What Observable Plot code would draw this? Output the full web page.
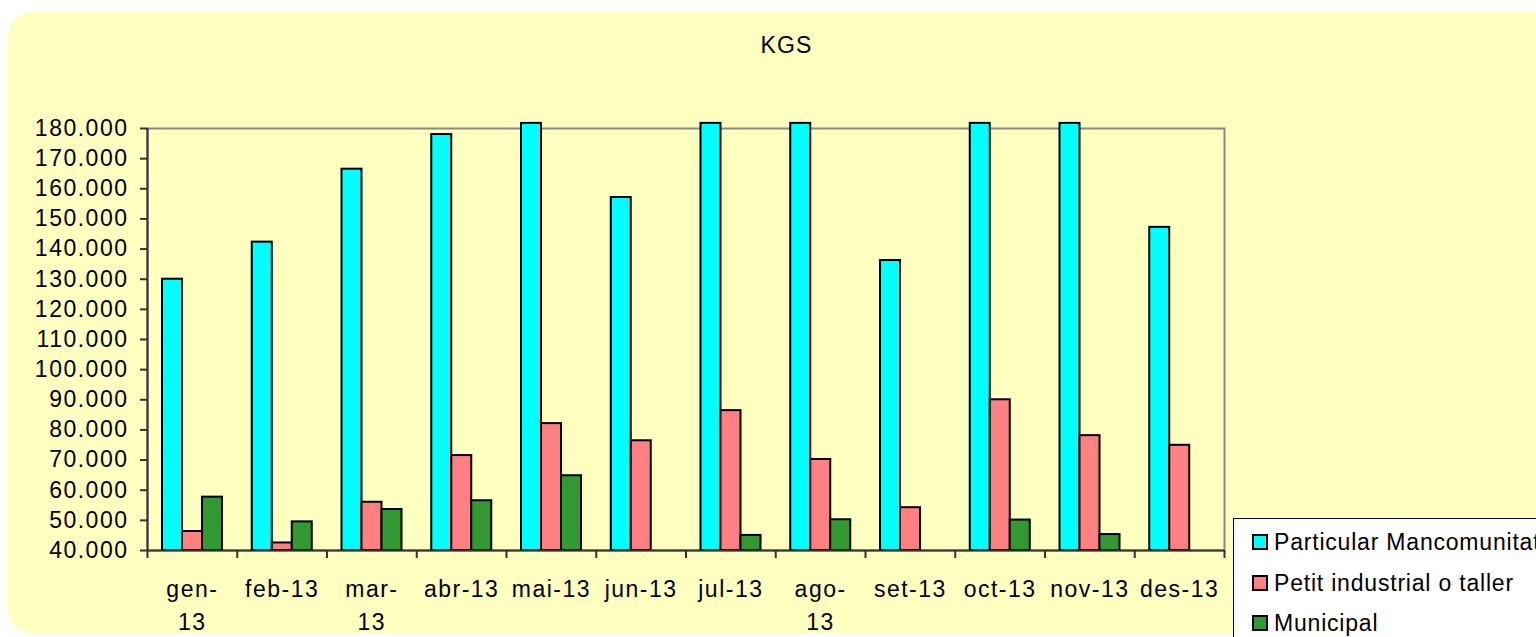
<!DOCTYPE html>
<html>
<head>
<meta charset="utf-8">
<script src="https://cdn.jsdelivr.net/npm/d3@7"></script>
<script src="https://cdn.jsdelivr.net/npm/@observablehq/plot@0.6"></script>
<style>
  html, body { margin: 0; padding: 0; background: #ffffff; }
  #page { position: relative; width: 1536px; height: 637px; overflow: hidden; background: #ffffff;
          font-family: "Liberation Sans", Arial, sans-serif; }
  #bg { position: absolute; left: 8px; top: 12px; width: 1560px; height: 621px; border-radius: 24px; background: #FFFFC0; }
  #title { position: absolute; left: 0; width: 1573px; top: 32px; text-align: center; font-size: 23px; letter-spacing: 1.2px; color: #000; }
  #chart { position: absolute; left: 0; top: 0; }
  #chart svg text { letter-spacing: 1.5px; }
  #legend { position: absolute; left: 1233px; top: 518px; width: 400px; height: 200px; background: #ffffff;
            border: 1px solid #000; box-sizing: border-box; }
  .item { position: absolute; left: 18px; height: 24px; display: flex; align-items: center; font-size: 23px; letter-spacing: 0.8px; white-space: nowrap; color: #000; }
  .sw { width: 12px; height: 12px; border: 2px solid #000; margin-right: 6px; }
</style>
</head>
<body>
<div id="page">
  <div id="bg"></div>
  <div id="title">KGS</div>
  <div id="chart"></div>
  <div id="legend"></div>
</div>
<script>
// ---- data ----
const months = ["gen-13","feb-13","mar-13","abr-13","mai-13","jun-13","jul-13","ago-13","set-13","oct-13","nov-13","des-13"];
const monthLabels = ["gen-\n13","feb-13","mar-\n13","abr-13","mai-13","jun-13","jul-13","ago-\n13","set-13","oct-13","nov-13","des-13"];
const seriesNames = ["Particular Mancomunitat","Petit industrial o taller","Municipal"];
const seriesColors = ["#00FFFF","#FF8080","#339933"];
// Particular bars for mai, jul, ago, oct, nov run off the top of the axis in the source (visible top ~181.700)
const particular = [130000,142300,166500,178000,181700,157100,181700,181700,136200,181700,181700,147200];
const petit      = [46300,42500,56000,71500,82100,76400,86400,70200,54200,90000,78100,74900];
const municipal  = [57700,49500,53600,56500,64800,null,45000,50200,null,50100,45300,null];
const yTicks = [40000,50000,60000,70000,80000,90000,100000,110000,120000,130000,140000,150000,160000,170000,180000];

const seriesValues = [particular, petit, municipal];
const rows = [];
seriesValues.forEach((vals, s) => vals.forEach((v, i) => { if (v != null) rows.push({month: months[i], series: seriesNames[s], value: v}); }));

const W = 1536, H = 637, mL = 147, mR = 312, mT = 128, mB = 87;
const band = (W - mL - mR) / months.length;
const groupPad = 15, barW = 20;
const labelOf = new Map(months.map((m, i) => [m, monthLabels[i]]));
const fmt = d => d3.format(",")(d).replace(/,/g, ".");

const barMarks = seriesNames.map((name, s) => Plot.barY(rows.filter(r => r.series === name), {
  x: "month", y1: 40000, y2: "value",
  fill: seriesColors[s], stroke: "#000", strokeWidth: 2,
  insetLeft: groupPad + s * barW, insetRight: band - groupPad - (s + 1) * barW
}));

const chart = Plot.plot({
  width: W, height: H,
  marginLeft: mL, marginRight: mR, marginTop: mT, marginBottom: mB,
  style: {background: "transparent", fontFamily: "Liberation Sans, Arial, sans-serif", fontSize: "23px", color: "#000", overflow: "visible"},
  x: {type: "band", domain: months, padding: 0, round: false, axis: null},
  y: {domain: [40000, 180000], axis: null},
  marks: [
    Plot.frame({stroke: "#888", strokeWidth: 2}),
    ...barMarks,
    Plot.ruleY([40000], {stroke: "#333", strokeWidth: 2}),
    Plot.ruleX([months[0]], {dx: -band / 2, stroke: "#333", strokeWidth: 2}),
    Plot.axisY({ticks: yTicks, tickSize: 7, tickPadding: 12, tickFormat: fmt, stroke: "#333", strokeWidth: 2, label: null}),
    Plot.axisX({tickSize: 8, tickFormat: () => "", dx: -band / 2, stroke: "#333", strokeWidth: 2, label: null}),
    Plot.axisX({ticks: [months[months.length - 1]], tickSize: 8, tickFormat: () => "", dx: band / 2, stroke: "#333", strokeWidth: 2, label: null}),
    Plot.axisX({tickSize: 0, tickPadding: 24, tickFormat: d => labelOf.get(d), lineHeight: 1.4, label: null})
  ]
});
document.getElementById("chart").appendChild(chart);

const legend = document.getElementById("legend");
const rowTops = [11, 52, 92];
seriesNames.forEach((name, s) => {
  const it = document.createElement("div");
  it.className = "item";
  it.style.top = rowTops[s] + "px";
  it.innerHTML = `<span class="sw" style="background:${seriesColors[s]}"></span><span>${name}</span>`;
  legend.appendChild(it);
});
</script>
</body>
</html>
